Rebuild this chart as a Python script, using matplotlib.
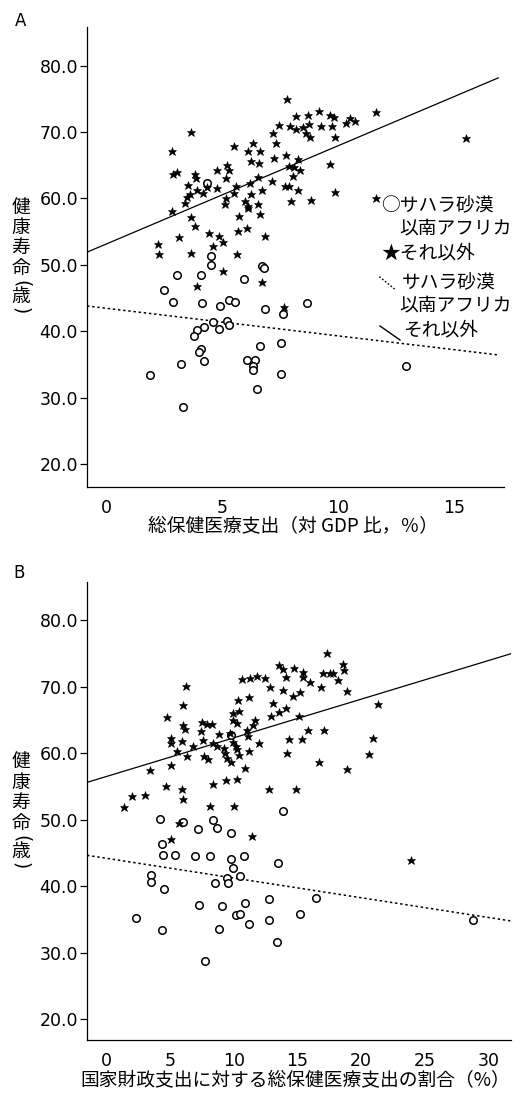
import matplotlib
matplotlib.use("Agg")
import matplotlib.pyplot as plt
from matplotlib.lines import Line2D

# ---------------- data ----------------
# Panel A: total health expenditure (% of GDP) vs healthy life expectancy
a_other_x = [7.80, 11.61, 3.63, 15.49, 9.15, 8.16, 8.69, 9.63, 9.80, 10.52, 10.73, 10.32,
             7.45, 7.93, 8.15, 8.46, 8.73, 9.25, 9.73, 8.62, 8.79, 9.84, 7.20, 7.30,
             2.80, 5.50, 6.30, 6.08, 6.63, 6.22, 6.57, 7.23, 7.73, 8.26, 9.65, 5.20,
             5.30, 4.76, 2.86, 3.03, 3.82, 3.85, 5.17, 6.51, 8.03, 8.34, 7.87, 8.07,
             7.13, 6.20, 3.53, 4.35, 4.76, 5.59, 3.89, 4.15, 3.46, 3.40, 5.48, 5.13,
             5.09, 6.22, 6.69, 7.70, 7.87, 8.27, 9.87, 5.99, 6.51, 7.94, 8.82, 11.64,
             2.81, 6.08, 6.11, 6.63, 3.65, 5.71, 3.82, 3.14, 4.42, 4.84, 5.02, 4.60,
             5.65, 6.05, 6.84, 2.22, 2.25, 3.63, 5.62, 5.04, 3.89, 6.71, 7.65, 3.60]
a_other_y = [74.9, 73.0, 70.0, 69.1, 73.1, 72.4, 72.6, 72.5, 72.2, 72.1, 71.7, 71.3,
             71.1, 70.9, 70.4, 70.8, 71.2, 70.9, 70.9, 69.8, 69.2, 69.2, 69.8, 68.3,
             67.1, 67.9, 68.4, 67.2, 67.2, 65.7, 65.3, 66.1, 66.5, 66.0, 65.2, 65.0,
             64.2, 64.2, 63.7, 63.9, 63.6, 63.0, 63.0, 63.2, 63.4, 64.2, 64.9, 64.8,
             62.6, 62.3, 62.0, 61.7, 61.6, 61.9, 61.3, 60.8, 60.2, 59.3, 60.8, 60.1,
             59.2, 60.7, 61.2, 61.9, 61.9, 61.3, 60.9, 59.6, 59.2, 59.6, 59.7, 60.1,
             58.1, 58.8, 58.5, 57.6, 57.2, 57.3, 55.8, 54.2, 54.8, 54.3, 53.4, 52.8,
             55.1, 55.6, 54.3, 53.2, 51.7, 51.8, 51.7, 49.1, 46.85, 47.35, 43.65, 60.6]
a_ssa_x = [4.32, 4.50, 4.51, 6.69, 6.80, 3.03, 4.08, 5.94, 2.48, 2.88, 4.12, 4.87,
           5.27, 5.52, 6.82, 8.63, 7.62, 4.61, 5.19, 5.30, 4.21, 3.90, 4.83, 3.77,
           4.08, 3.98, 6.60, 7.52, 3.20, 4.21, 6.05, 6.41, 6.30, 6.30, 1.87, 7.54,
           6.50, 3.29, 12.90]
a_ssa_y = [62.3, 51.4, 49.9, 49.85, 49.5, 48.5, 48.45, 47.9, 46.25, 44.45, 44.3, 43.85,
           44.75, 44.45, 43.3, 44.25, 42.55, 41.4, 41.55, 41.0, 40.65, 40.25, 40.35, 39.3,
           37.4, 36.9, 37.85, 38.25, 35.05, 35.55, 35.65, 35.65, 34.75, 34.15, 33.35, 33.55,
           31.35, 28.6, 34.8]
# regression lines (slope, intercept)
a_other_fit = (1.478, 53.16)
a_ssa_fit = (-0.415, 43.45)

# Panel B: share of government expenditure on health (%) vs healthy life expectancy
b_other_x = [17.29, 13.57, 13.83, 14.72, 15.46, 15.41, 17.03, 17.55, 17.82, 18.60, 18.65, 18.21,
             18.91, 16.82, 16.00, 14.10, 13.83, 15.20, 14.67, 12.84, 12.47, 11.84, 11.27, 10.64,
             11.16, 10.35, 9.96, 10.43, 9.90, 10.22, 13.10, 12.90, 13.57, 14.07, 15.12, 11.63,
             11.53, 11.06, 11.14, 11.19, 12.00, 14.36, 15.33, 15.82, 17.10, 14.20, 16.70, 18.86,
             20.60, 20.96, 21.35, 12.78, 14.88, 6.24, 5.97, 4.72, 6.03, 6.19, 7.52, 7.86,
             8.25, 7.41, 8.85, 7.55, 7.65, 7.94, 6.81, 5.90, 5.08, 5.08, 5.50, 6.29,
             5.03, 3.41, 8.38, 8.64, 9.22, 9.33, 9.43, 9.75, 9.96, 10.17, 10.27, 10.38,
             10.87, 9.69, 4.66, 5.92, 6.03, 8.38, 9.38, 10.27, 3.00, 1.96, 1.39, 8.12,
             10.03, 5.71, 5.03, 11.42, 23.92]
b_other_y = [75.1, 73.3, 72.6, 72.75, 72.25, 71.5, 72.1, 72.0, 72.1, 73.4, 72.5, 71.0,
             69.4, 70.0, 70.75, 71.4, 69.5, 69.25, 68.6, 70.0, 71.25, 71.6, 71.25, 71.1,
             68.5, 68.0, 66.0, 66.4, 65.0, 64.5, 67.5, 65.6, 66.25, 66.75, 65.5, 65.0,
             64.25, 63.4, 62.6, 60.25, 61.5, 62.15, 62.15, 63.5, 63.5, 60.0, 58.6, 57.6,
             59.9, 62.25, 67.35, 54.65, 54.65, 70.15, 67.25, 65.35, 64.25, 63.65, 64.65, 64.4,
             64.4, 63.35, 62.8, 62.0, 59.6, 59.1, 61.0, 61.85, 62.25, 61.5, 60.25, 59.5,
             58.25, 57.4, 61.5, 61.0, 60.75, 60.0, 59.25, 58.6, 61.65, 61.1, 60.6, 59.75,
             57.75, 63.0, 55.0, 54.6, 53.1, 55.4, 55.9, 56.1, 53.7, 53.5, 51.9, 52.0,
             52.1, 49.5, 47.1, 47.6, 43.9]
b_ssa_x = [9.80, 13.83, 4.17, 5.97, 8.33, 7.18, 8.70, 9.80, 4.38, 4.45, 5.34, 6.94,
           8.12, 9.75, 10.79, 13.49, 9.96, 3.51, 10.51, 9.43, 3.49, 8.49, 9.54, 4.53,
           16.45, 12.73, 10.85, 7.26, 9.06, 10.17, 10.48, 15.22, 2.28, 12.76, 11.16, 28.82,
           4.35, 8.83, 13.36, 7.75]
b_ssa_y = [62.75, 51.3, 50.1, 49.6, 49.9, 48.6, 48.7, 48.05, 46.4, 44.75, 44.75, 44.6,
           44.55, 44.1, 44.5, 43.5, 42.7, 41.7, 41.6, 41.2, 40.65, 40.5, 40.55, 39.65,
           38.25, 38.05, 37.5, 37.15, 37.0, 35.65, 35.8, 35.85, 35.2, 34.95, 34.35, 34.95,
           33.5, 33.65, 31.6, 28.75]
b_other_fit = (0.58, 56.5)
b_ssa_fit = (-0.296, 44.19)

y_ticks = [20, 30, 40, 50, 60, 70, 80]
a_x_ticks = [0, 5, 10, 15]
b_x_ticks = [0, 5, 10, 15, 20, 25, 30]

a_xlabel = "総保健医療支出（対 GDP 比，％）"
b_xlabel = "国家財政支出に対する総保健医療支出の割合（%）"
legend_ssa = ["サハラ砂漠", "以南アフリカ"]
legend_other = "それ以外"
ylabel_chars = ["健", "康", "寿", "命", "(", "歳", ")"]

# ---------------- layout ----------------
W, H = 517, 1093
JP = ['Noto Sans CJK JP', 'DejaVu Sans']
plt.rcParams['font.family'] = ['DejaVu Sans']

fig = plt.figure(figsize=(W / 100, H / 100), dpi=100)


def fpos(x, y):
    return x / W, 1 - y / H


def make_axes(left, right, top, bottom):
    return fig.add_axes([left / W, 1 - bottom / H, (right - left) / W, (bottom - top) / H])


axA = make_axes(87, 504, 27, 486.7)
axB = make_axes(87, 510.7, 581.7, 1040)

star_kw = dict(linestyle='none', marker='*', markersize=6.4, color='black', markeredgewidth=0.4)
circ_kw = dict(linestyle='none', marker='o', markersize=5.4, markerfacecolor='white',
               markeredgecolor='black', markeredgewidth=1.1)


def setup(ax, xlim, ylim, xticks, other_x, other_y, ssa_x, ssa_y, fit_o, fit_s, line_end):
    ax.set_xlim(*xlim)
    ax.set_ylim(*ylim)
    for s in ['top', 'right']:
        ax.spines[s].set_visible(False)
    for s in ['left', 'bottom']:
        ax.spines[s].set_linewidth(0.9)
    ax.set_xticks(xticks)
    ax.set_xticklabels([str(t) for t in xticks])
    ax.set_yticks(y_ticks)
    ax.set_yticklabels([f"{t:.1f}" for t in y_ticks])
    ax.tick_params(axis='y', direction='out', length=5, width=0.9, pad=1.5, labelsize=12.5)
    ax.tick_params(axis='x', direction='out', length=0, width=0.9, pad=9.0, labelsize=12.5)
    ax.plot(ssa_x, ssa_y, zorder=3, **circ_kw)
    ax.plot(other_x, other_y, zorder=4, **star_kw)
    xs = [xlim[0], line_end]
    ax.plot(xs, [fit_o[0] * x + fit_o[1] for x in xs], color='black', lw=0.9, zorder=2)
    ax.plot(xs, [fit_s[0] * x + fit_s[1] for x in xs], color='black', lw=1.1,
            linestyle=(0, (1.6, 1.8)), zorder=2)


setup(axA, (-0.85, 17.15), (16.6, 85.8), a_x_ticks, a_other_x, a_other_y,
      a_ssa_x, a_ssa_y, a_other_fit, a_ssa_fit, 16.9)
setup(axB, (-1.55, 31.76), (16.9, 85.75), b_x_ticks, b_other_x, b_other_y,
      b_ssa_x, b_ssa_y, b_other_fit, b_ssa_fit, 31.76)

FS = 13.5
# panel letters
fig.text(*fpos(15, 21), "A", fontsize=12, va='center', ha='left')
fig.text(*fpos(13, 573), "B", fontsize=12, va='center', ha='left')

# vertical y labels (one character per row; parentheses turned for vertical writing)
ylabel_offsets = [180, 200.5, 221, 241.5, 257, 270, 283.5]


def ylabel(top):
    for c, dy in zip(ylabel_chars, ylabel_offsets):
        if c in "()":
            fig.text(*fpos(21, top + dy), c, fontsize=FS, family=['DejaVu Sans'],
                     ha='center', va='center', rotation=-90)
        else:
            fig.text(*fpos(21, top + dy), c, fontsize=FS, family=JP, ha='center', va='center')


ylabel(27)
ylabel(581.7)

# x labels
fig.text(*fpos(293, 526.7), a_xlabel, fontsize=FS, family=JP, ha='center', va='center')
fig.text(*fpos(295, 1081), b_xlabel, fontsize=FS, family=JP, ha='center', va='center')

# legend (panel A)
fig.text(*fpos(381, 206), "○" + legend_ssa[0], fontsize=FS, family=JP, ha='left', va='center')
fig.text(*fpos(399, 228), legend_ssa[1], fontsize=FS, family=JP, ha='left', va='center')
fig.text(*fpos(381, 253), "★" + legend_other, fontsize=FS, family=JP, ha='left', va='center')
fig.text(*fpos(401.7, 283), legend_ssa[0], fontsize=FS, family=JP, ha='left', va='center')
fig.text(*fpos(399, 305), legend_ssa[1], fontsize=FS, family=JP, ha='left', va='center')
fig.text(*fpos(402.7, 330), legend_other, fontsize=FS, family=JP, ha='left', va='center')

x0, y0 = fpos(379.3, 276.7)
x1, y1 = fpos(395, 289.3)
fig.add_artist(Line2D([x0, x1], [y0, y1], transform=fig.transFigure, color='black',
                      lw=1.0, linestyle=(0, (1.2, 1.4))))
x0, y0 = fpos(380, 326)
x1, y1 = fpos(400, 340)
fig.add_artist(Line2D([x0, x1], [y0, y1], transform=fig.transFigure, color='black', lw=1.0))

fig.savefig("out.png", dpi=100)
